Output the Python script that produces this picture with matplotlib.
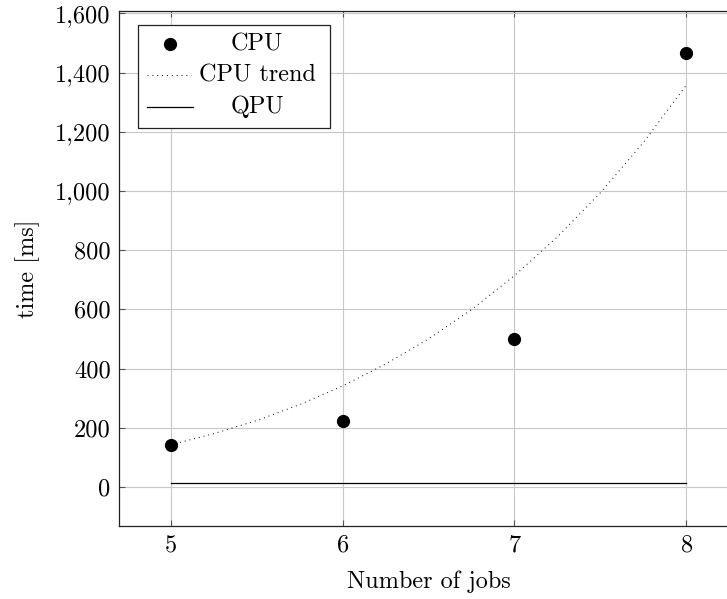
import matplotlib
matplotlib.use("Agg")
import matplotlib.pyplot as plt
from matplotlib.ticker import FuncFormatter
from matplotlib.patches import Rectangle
from matplotlib.lines import Line2D

plt.rcParams['font.family'] = 'serif'
plt.rcParams['font.serif'] = ['cmr10']
plt.rcParams['mathtext.fontset'] = 'cm'
plt.rcParams['axes.formatter.use_mathtext'] = True

# data
jobs = [5, 6, 7, 8]
cpu_ms = [142, 223, 501, 1466]
qpu_ms = [14, 14, 14, 14]

# points along the CPU trend curve
trend_jobs = [5, 5.25, 5.5, 5.75, 6, 6.25, 6.5, 6.75, 7, 7.25, 7.5, 7.75, 8]
trend_ms = [142, 180, 224, 278, 341, 415, 500, 599, 714, 845, 994, 1164, 1358]

FS = 17.5
dots = (0, (1, 4))

fig = plt.figure(figsize=(7.27, 5.99), dpi=100)
ax = fig.add_axes([119 / 727, 73.3 / 599, 619 / 727, 514.7 / 599])

ax.plot(jobs, cpu_ms, 'o', color='black', markersize=8.5, zorder=4)
ax.plot(trend_jobs, trend_ms, color='black', linewidth=0.7, linestyle=dots, zorder=3)
ax.plot(jobs, qpu_ms, color='black', linewidth=0.9, zorder=3)

ax.set_xlim(4.7, 8.3)
ax.set_ylim(-131, 1608)
ax.set_xticks(jobs)
ax.set_yticks(range(0, 1601, 200))
ax.yaxis.set_major_formatter(FuncFormatter(lambda v, p: f'{v:,.0f}'))

ax.grid(True, color='#c8c8c8', linewidth=0.8)
ax.set_axisbelow(True)
ax.tick_params(direction='in', length=4, width=0.8, color='#555555',
               top=True, right=True, labelsize=FS, pad=6)
for s in ax.spines.values():
    s.set_linewidth(0.9)
    s.set_color('#222222')

ax.set_xlabel('Number of jobs', fontsize=FS, labelpad=10)
ax.set_ylabel('time [ms]', fontsize=FS, labelpad=11)

# legend drawn like the pgfplots box with centred labels
tr = ax.transAxes
ax.add_patch(Rectangle((0.0307, 0.7727), 0.3103, 0.2001, transform=tr,
                       facecolor='white', edgecolor='#222222', linewidth=0.9, zorder=5))
rows = [0.9359, 0.8757, 0.8135]
ax.add_line(Line2D([0.0824], [rows[0]], marker='o', color='black', markersize=8.5,
                   transform=tr, zorder=6))
ax.add_line(Line2D([0.0453, 0.1163], [rows[1]] * 2, color='black', linewidth=0.7,
                   linestyle=dots, transform=tr, zorder=6))
ax.add_line(Line2D([0.0453, 0.1195], [rows[2]] * 2, color='black', linewidth=0.9,
                   transform=tr, zorder=6))
for y, label in zip(rows, ['CPU', 'CPU trend', 'QPU']):
    ax.text(0.223, y, label, transform=tr, ha='center', va='center',
            fontsize=FS, zorder=6)

fig.savefig('out.png', dpi=100)
